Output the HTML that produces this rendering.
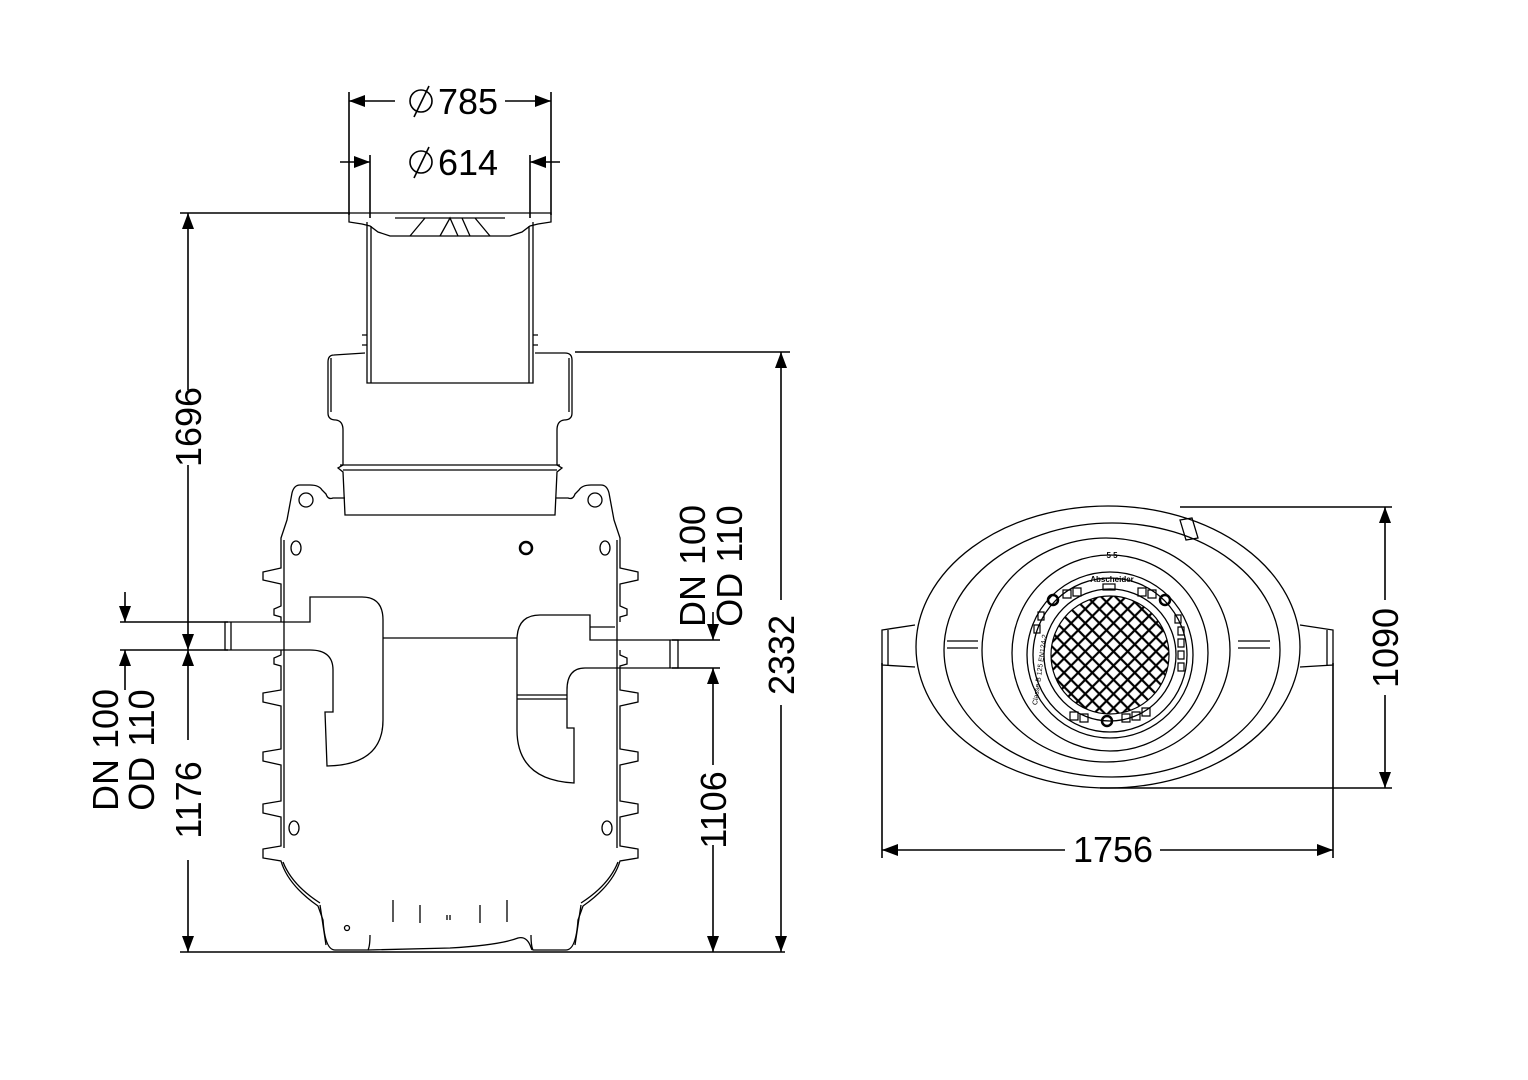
<!DOCTYPE html>
<html><head><meta charset="utf-8"><style>
html,body{margin:0;padding:0;background:#fff;}
svg{display:block;}
text{font-family:"Liberation Sans",sans-serif;font-size:36px;fill:#000;}
</style></head><body>
<svg width="1528" height="1080" viewBox="0 0 1528 1080" xmlns="http://www.w3.org/2000/svg">
<defs>
<marker id="a" viewBox="0 0 16 12" refX="16" refY="6" markerWidth="16" markerHeight="12" markerUnits="userSpaceOnUse" orient="auto-start-reverse"><path d="M0,0 L16,6 L0,12 Z" fill="#000"/></marker>
<pattern id="grid" width="10" height="10" patternUnits="userSpaceOnUse" patternTransform="rotate(45 1110 655)">
<rect width="10" height="10" fill="#000"/><rect x="1.1" y="1.1" width="7.8" height="7.8" fill="#fff"/>
</pattern>
<clipPath id="gc"><circle cx="1110" cy="655" r="59"/></clipPath>
</defs>

<g stroke="#000" fill="none" stroke-width="1.6">
<line x1="349" y1="92" x2="349" y2="215"/><line x1="551" y1="92" x2="551" y2="215"/>
<line x1="395" y1="101" x2="349" y2="101" marker-end="url(#a)"/>
<line x1="505" y1="101" x2="551" y2="101" marker-end="url(#a)"/>
<line x1="370" y1="155" x2="370" y2="218"/><line x1="530" y1="155" x2="530" y2="218"/>
<line x1="340" y1="162" x2="370" y2="162" marker-end="url(#a)"/>
<line x1="560" y1="162" x2="530" y2="162" marker-end="url(#a)"/>
<circle cx="421" cy="101" r="11"/><line x1="414" y1="117" x2="429" y2="86"/>
<circle cx="421" cy="162" r="11"/><line x1="414" y1="178" x2="429" y2="147"/>

<line x1="180" y1="213" x2="350" y2="213"/>
<line x1="120" y1="622" x2="228" y2="622"/>
<line x1="120" y1="650" x2="228" y2="650"/>
<line x1="180" y1="952" x2="785" y2="952"/>
<line x1="188" y1="390" x2="188" y2="213" marker-end="url(#a)"/>
<line x1="188" y1="465" x2="188" y2="650" marker-end="url(#a)"/>
<line x1="188" y1="740" x2="188" y2="650" marker-end="url(#a)"/>
<line x1="188" y1="860" x2="188" y2="952" marker-end="url(#a)"/>
<line x1="125" y1="592" x2="125" y2="622" marker-end="url(#a)"/>
<line x1="125" y1="690" x2="125" y2="650" marker-end="url(#a)"/>

<line x1="672" y1="640" x2="720" y2="640"/>
<line x1="672" y1="668" x2="720" y2="668"/>
<line x1="713" y1="612" x2="713" y2="640" marker-end="url(#a)"/>
<line x1="713" y1="765" x2="713" y2="668" marker-end="url(#a)"/>
<line x1="713" y1="845" x2="713" y2="952" marker-end="url(#a)"/>
<line x1="575" y1="352" x2="790" y2="352"/>
<line x1="781" y1="600" x2="781" y2="352" marker-end="url(#a)"/>
<line x1="781" y1="705" x2="781" y2="952" marker-end="url(#a)"/>

<line x1="1180" y1="507" x2="1392" y2="507"/>
<line x1="1100" y1="788" x2="1392" y2="788"/>
<line x1="1385" y1="600" x2="1385" y2="507" marker-end="url(#a)"/>
<line x1="1385" y1="695" x2="1385" y2="788" marker-end="url(#a)"/>
<line x1="882" y1="663" x2="882" y2="858"/>
<line x1="1333" y1="663" x2="1333" y2="858"/>
<line x1="1065" y1="850" x2="882" y2="850" marker-end="url(#a)"/>
<line x1="1160" y1="850" x2="1333" y2="850" marker-end="url(#a)"/>
</g>

<text x="438" y="114">785</text>
<text x="438" y="175">614</text>
<text transform="translate(201,427) rotate(-90)" text-anchor="middle">1696</text>
<text transform="translate(201,800) rotate(-90)" text-anchor="middle">1176</text>
<text transform="translate(118,750) rotate(-90)" text-anchor="middle">DN 100</text>
<text transform="translate(154,750) rotate(-90)" text-anchor="middle">OD 110</text>
<text transform="translate(705,566) rotate(-90)" text-anchor="middle">DN 100</text>
<text transform="translate(742,566) rotate(-90)" text-anchor="middle">OD 110</text>
<text transform="translate(726,810) rotate(-90)" text-anchor="middle">1106</text>
<text transform="translate(794,655) rotate(-90)" text-anchor="middle">2332</text>
<text transform="translate(1398,648) rotate(-90)" text-anchor="middle">1090</text>
<text x="1113" y="862" text-anchor="middle">1756</text>

<g stroke="#000" fill="none" stroke-width="1.3">
<path d="M349,213 L551,213 L551,222 L538,224 L530,226 L522,232 L510,236 L390,236 L378,232 L370,226 L362,224 L349,222 Z"/>
<path d="M395,218 L505,218 M410,236 L425,218 M440,236 L450,218 L458,236 M470,236 L462,218 M475,218 L490,236"/>
<path d="M367,222 L367,383 L533,383 L533,222"/>
<path d="M371,226 L371,383 M529,226 L529,383"/>
<path d="M362,335 L367,335 M362,345 L367,345 M533,335 L538,335 M533,345 L538,345"/>
<path d="M365,353 L334,355 Q328,355 328,362 L328,413 Q328,420 336,420 Q343,421 343,430 L343,465 L338,468 L343,472 L345,515 L555,515 L557,472 L562,468 L557,465 L557,430 Q557,421 564,420 Q572,420 572,413 L572,360 Q572,353 565,353 L535,353"/>
<path d="M331,358 L331,412 M569,358 L569,412"/>
<path d="M340,465 L560,465 M343,470 L557,470"/>
<g id="half">
<path d="M345,498 L333,498 Q328,500 326,494 L322,490 Q319,485 310,485 L300,485 Q294,485 292,493 L287,520 L281,538 L281,568 L263,572 L263,580 L281,584 L281,606 L274,609 L274,615 L281,617 L281,622"/>
<path d="M281,650 L281,655 L274,658 L274,664 L281,666 L281,690 L263,693 L263,702 L281,706 L281,749 L263,752 L263,761 L281,765 L281,801 L263,804 L263,813 L281,817 L281,846 L263,849 L263,858 L281,861 Q288,885 318,906 L323,920 Q325,950 335,950 L368,950 Q370,946 370,935"/>
<path d="M284,540 L284,848 M283,862 Q292,885 320,903"/>
<circle cx="306" cy="500" r="7"/>
<ellipse cx="296" cy="548" rx="5" ry="7"/>
<ellipse cx="294" cy="828" rx="5" ry="7"/>
<path d="M320,905 L326,945"/>
</g>
<use href="#half" transform="translate(901,0) scale(-1,1)"/>
<path d="M368,950 L450,948 Q500,945 518,938 Q526,936 530,945 L532,950"/>
<circle cx="526" cy="548" r="6" stroke-width="2.5"/>
<circle cx="347" cy="928" r="2.5"/>
<path d="M393,900 L393,922 M420,905 L420,923 M447,915 L447,920 M450,915 L450,920 M480,905 L480,923 M507,900 L507,922"/>
<path d="M225,622 L310,622 L310,597 L362,597 Q383,597 383,620 L383,720 Q383,765 327,766 L325,712 L333,712 L333,670 Q333,650 310,650 L225,650 Z"/>
<path d="M231,622 L231,650"/>
<line x1="383" y1="638" x2="517" y2="638"/>
<path d="M517,640 Q517,615 540,615 L590,615 L590,640 L678,640 L678,668 L585,668 Q567,668 567,690 L567,728 L574,728 L574,783 Q517,780 517,730 Z"/>
<path d="M670,640 L670,668 M590,627 L615,627 M517,695 L567,695 M517,699 L567,699"/>
</g>

<g stroke="#000" fill="none" stroke-width="1.3">
<path d="M915,625 L882,630 L882,665 L915,667"/>
<path d="M888,630 L888,665"/>
<path d="M1300,625 L1333,630 L1333,665 L1300,667"/>
<path d="M1327,630 L1327,665"/>
<ellipse cx="1108" cy="647" rx="192" ry="141"/>
<ellipse cx="1112" cy="650" rx="168" ry="127"/>
<ellipse cx="1106" cy="650" rx="124" ry="112"/>
<circle cx="1110" cy="653" r="98"/>
<circle cx="1110" cy="655" r="83"/>
<circle cx="1110" cy="655" r="77"/>
<circle cx="1110" cy="655" r="66"/>
<path d="M1180,520 L1186,540 L1198,538 L1192,518 Z"/>
<path d="M947,641 L978,641 M947,648 L978,648 M1238,641 L1270,641 M1238,648 L1270,648"/>
</g>
<rect x="1040" y="585" width="140" height="140" fill="url(#grid)" clip-path="url(#gc)"/>
<g fill="none" stroke="#000" stroke-width="1.2">
<circle cx="1110" cy="655" r="59"/>
<circle cx="1053" cy="600" r="5" stroke-width="2.5"/><circle cx="1165" cy="600" r="5" stroke-width="2.5"/><circle cx="1107" cy="721" r="5" stroke-width="2.5"/>
<rect x="1103" y="584" width="12" height="6"/>
<path d="M1063,590 h8 v8 h-8 z M1073,588 h8 v8 h-8 z M1138,588 h8 v8 h-8 z M1148,590 h8 v8 h-8 z M1175,615 h6 v8 h-6z M1178,627 h6 v8 h-6z M1178,639 h6 v8 h-6z M1178,651 h6 v8 h-6z M1178,663 h6 v8 h-6z M1070,712 h8 v8 h-8z M1080,714 h8 v8 h-8z M1122,714 h8 v8 h-8z M1132,712 h8 v8 h-8z M1142,708 h8 v8 h-8z M1038,612 h6 v8 h-6z M1034,625 h6 v8 h-6z"/>
</g>
<text x="1112" y="582" text-anchor="middle" style="font-size:8px;font-weight:bold">Abscheider</text>
<text x="1112" y="558" text-anchor="middle" style="font-size:8px;font-weight:bold">5 5</text>
<text transform="translate(1042,670) rotate(-82)" text-anchor="middle" style="font-size:7px">Classe B 125 EN124-2</text>
</svg>
</body></html>
